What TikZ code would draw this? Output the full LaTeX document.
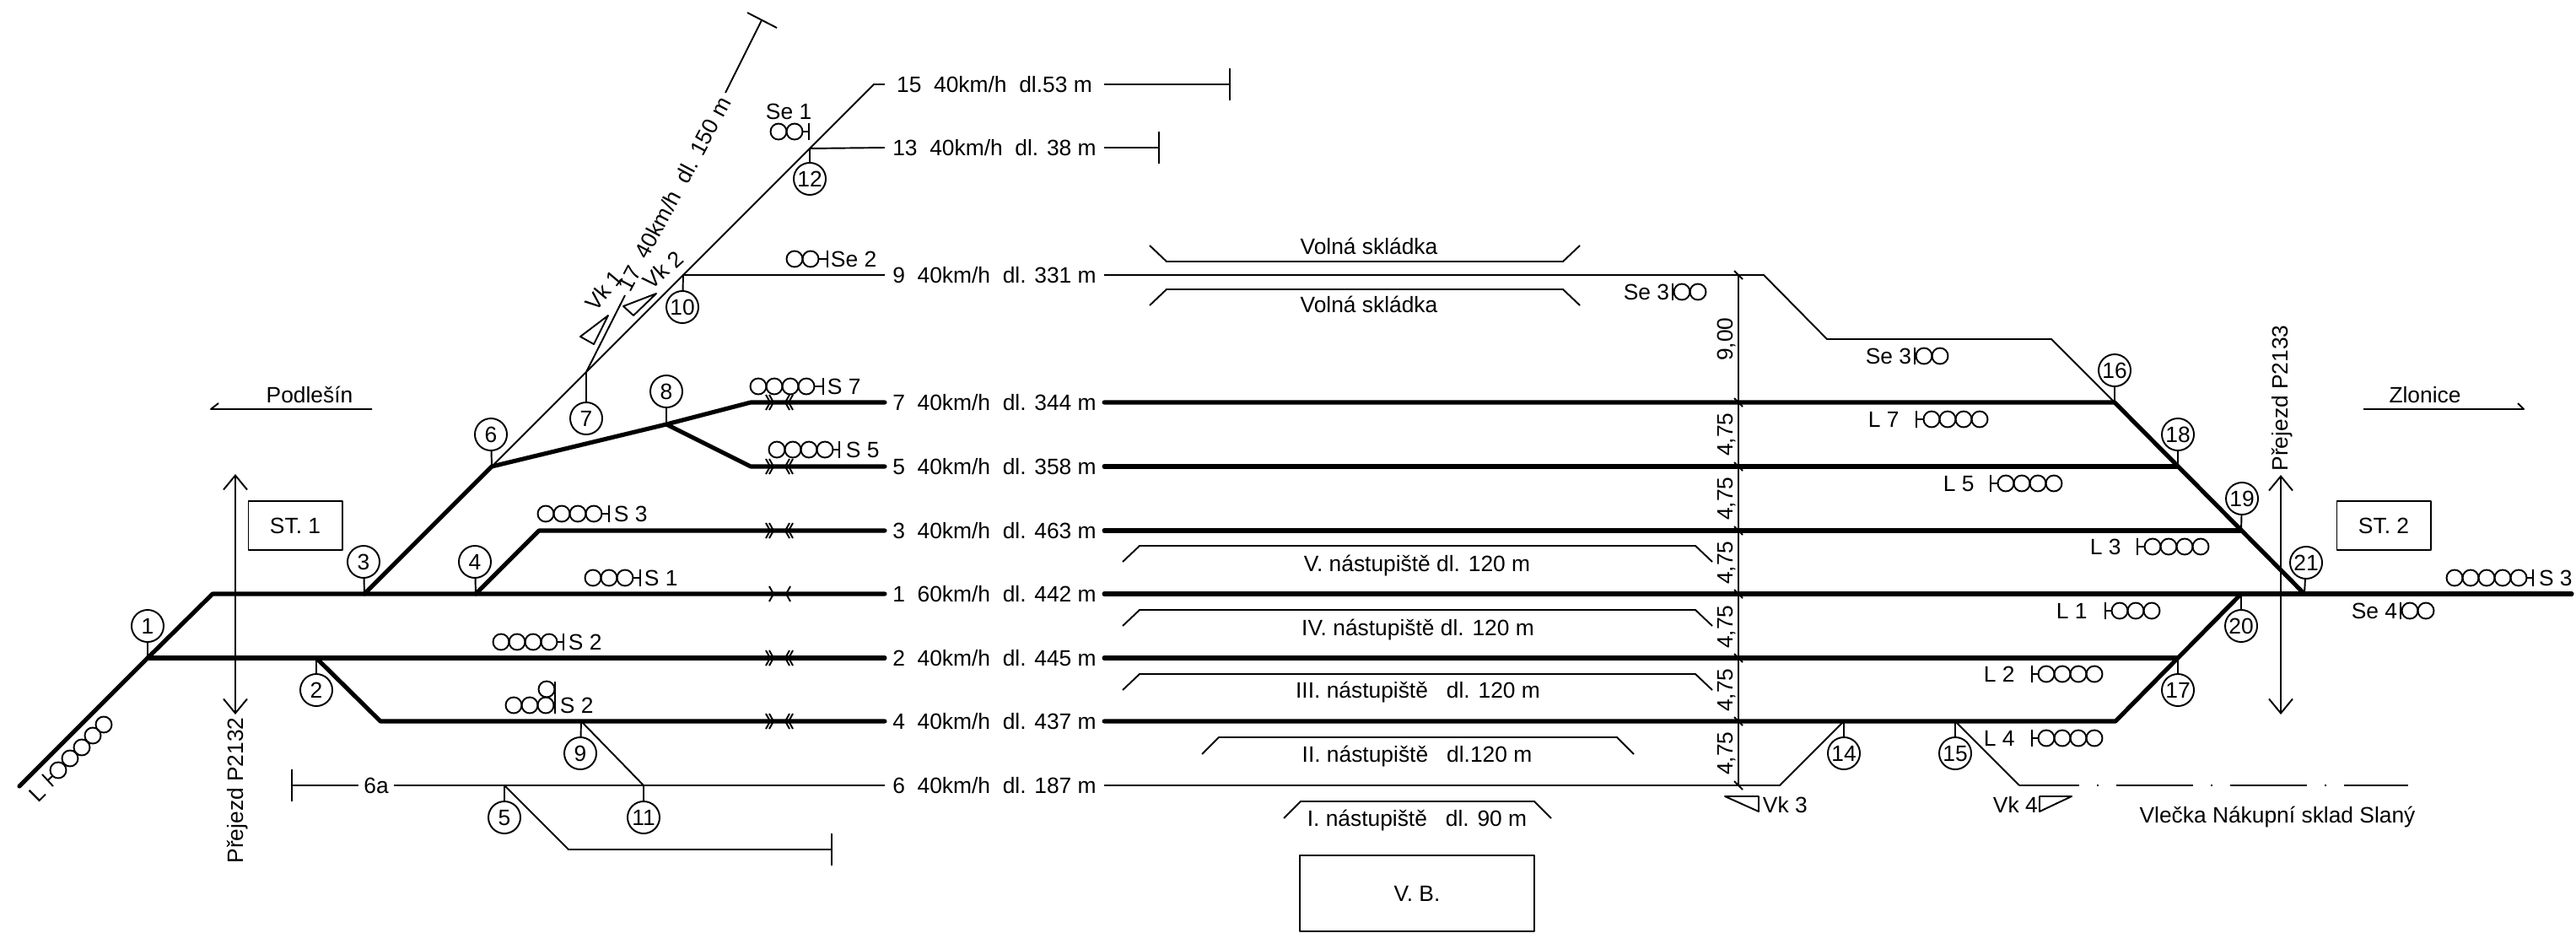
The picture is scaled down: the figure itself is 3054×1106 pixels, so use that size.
\documentclass[tikz,border=0pt]{standalone}
\usepackage{fontspec}
\setmainfont{Liberation Sans}
\usetikzlibrary{arrows.meta}
\tikzset{
    txt/.style={font=\fontsize{7.5}{9}\selectfont, inner sep=0pt, text height=5.4pt, text depth=0pt},
    rail/.style={line width=1.45pt, line cap=round},
    trk/.style={txt, minimum width=2.58cm},
    sw/.style={txt, draw, circle, fill=white, minimum size=0.38cm},
    box/.style={txt, draw, minimum width=1.11cm, minimum height=0.58cm},
    cross/.style={{Straight Barb[length=0.17cm,width=0.28cm]}-{Straight Barb[length=0.17cm,width=0.28cm]}}
}
% first lamp x, y, number of lamps, bar x (bar right of the lamps)
\newcommand{\lampsbar}[4]{
    \foreach \i in {1,...,#3} {\draw ({#1+19*(\i-1)},#2) circle (9.5);}
    \draw ({#1+19*(#3-1)+9.5},#2) -- (#4,#2);
    \draw (#4,#2-10) -- (#4,#2+10);
}
% first lamp x, y, number of lamps, bar x (bar left of the lamps)
\newcommand{\barlamps}[4]{
    \foreach \i in {1,...,#3} {\draw ({#1+19*(\i-1)},#2) circle (9.5);}
    \draw (#1-9.5,#2) -- (#4,#2);
    \draw (#4,#2-10) -- (#4,#2+10);
}
% left x, right x, y of the top, y of the ends
\newcommand{\platform}[4]{
    \draw (#1,#4) -- (#1+20,#3) -- (#2-20,#3) -- (#2,#4);
}
\begin{document}
\begin{tikzpicture}[x=0.01cm, y=-0.01cm, line width=0.55pt, line join=round]
    \useasboundingbox (0,0) rectangle (3054,1106);
    % points on the tracks
    \coordinate (j0) at (23,932);
    \coordinate (j1) at (175,780);
    \coordinate (k1) at (252,704);
    \coordinate (j2) at (375,780);
    \coordinate (k4) at (451,855);
    \coordinate (j3) at (432,704);
    \coordinate (j4) at (564,704);
    \coordinate (k3) at (639,629);
    \coordinate (j6) at (583,553);
    \coordinate (j8) at (790,503);
    \coordinate (k7) at (890,477);
    \coordinate (k5) at (890,553);
    \coordinate (j7) at (695,441);
    \coordinate (j10) at (810,326);
    \coordinate (j12) at (960,176);
    \coordinate (k15) at (1036,100);
    \coordinate (j9) at (689,855);
    \coordinate (j11) at (763,931);
    \coordinate (j5) at (598,931);
    \coordinate (k6) at (674,1007);
    \coordinate (e6) at (986,1007);
    \coordinate (e6a) at (346,931);
    \coordinate (e15) at (1458,100);
    \coordinate (e13) at (1374,175);
    \coordinate (j16) at (2507,477);
    \coordinate (j18) at (2582,553);
    \coordinate (j19) at (2657,629);
    \coordinate (j21) at (2732,704);
    \coordinate (j20) at (2657,704);
    \coordinate (j17) at (2582,780);
    \coordinate (k17) at (2508,855);
    \coordinate (e1) at (3049,704);
    \coordinate (k9a) at (2091,326);
    \coordinate (k9b) at (2166,402);
    \coordinate (k9c) at (2432,402);
    \coordinate (k14) at (2110,931);
    \coordinate (j14) at (2186,855);
    \coordinate (j15) at (2318,855);
    \coordinate (k18) at (2394,931);
    \coordinate (e18) at (2855,931);
    \coordinate (v1) at (741,350);
    \coordinate (v2) at (860,110);
    \coordinate (e17) at (903,24);
    % track labels
    \node[trk] (t15) at (1179,100) {15\ \ 40km/h\ \ dl.53 m};
    \node[trk] (t13) at (1179,175) {13\ \ 40km/h\ \ dl. 38 m};
    \node[trk] (t9) at (1179,326) {9\ \ 40km/h\ \ dl. 331 m};
    \node[trk] (t7) at (1179,477) {7\ \ 40km/h\ \ dl. 344 m};
    \node[trk] (t5) at (1179,553) {5\ \ 40km/h\ \ dl. 358 m};
    \node[trk] (t3) at (1179,629) {3\ \ 40km/h\ \ dl. 463 m};
    \node[trk] (t1) at (1179,704) {1\ \ 60km/h\ \ dl. 442 m};
    \node[trk] (t2) at (1179,780) {2\ \ 40km/h\ \ dl. 445 m};
    \node[trk] (t4) at (1179,855) {4\ \ 40km/h\ \ dl. 437 m};
    \node[trk] (t6) at (1179,931) {6\ \ 40km/h\ \ dl. 187 m};
    \node[txt, minimum width=0.41cm] (t6a) at (446,931) {6a};
    \node[txt, rotate=62] (t17) at (799,230) {17\ \ 40km/h\ \ dl. 150 m};
    % thick tracks
    \draw[rail] (j0) -- (j1) -- (k1) -- (t1.west);
    \draw[rail] (t1.east) -- (j21) -- (e1);
    \draw[rail] (j1) -- (t2.west);
    \draw[rail] (t2.east) -- (j17);
    \draw[rail] (j2) -- (k4) -- (t4.west);
    \draw[rail] (t4.east) -- (k17) -- (j20);
    \draw[rail] (j4) -- (k3) -- (t3.west);
    \draw[rail] (t3.east) -- (j19);
    \draw[rail] (j3) -- (j6) -- (j8) -- (k7) -- (t7.west);
    \draw[rail] (j8) -- (k5) -- (t5.west);
    \draw[rail] (t7.east) -- (j16) -- (j21);
    \draw[rail] (t5.east) -- (j18);
    % thin tracks
    \draw (j6) -- (j7) -- (j10) -- (j12) -- (k15) -- (t15.west);
    \draw (t15.east) -- (e15);
    \draw (e15) +(0,-19) -- +(0,19);
    \draw (j12) -- (t13.west);
    \draw (t13.east) -- (e13);
    \draw (e13) +(0,-19) -- +(0,19);
    \draw (j10) -- (t9.west);
    \draw (t9.east) -- (k9a) -- (k9b) -- (k9c) -- (j16);
    \draw (e6a) +(0,-19) -- +(0,19);
    \draw (e6a) -- (t6a.west);
    \draw (t6a.east) -- (t6.west);
    \draw (t6.east) -- (k14) -- (j14);
    \draw (j9) -- (j11);
    \draw (j5) -- (k6) -- (e6);
    \draw (e6) +(0,-19) -- +(0,19);
    \draw (j15) -- (k18);
    \draw[dash pattern=on 0.91cm off 0.21cm on 0.02cm off 0.21cm, dash phase=0.2cm] (k18) -- (e18);
    \draw (j7) -- (v1);
    \draw (v2) -- (e17);
    \draw (e17) +(-17,-9) -- +(18,9);
    % switches
    \node[sw] (n1) at (175,742) {1};
    \node[sw] (n2) at (375,818) {2};
    \node[sw] (n3) at (431,666) {3};
    \node[sw] (n4) at (563,666) {4};
    \node[sw] (n5) at (598,969) {5};
    \node[sw] (n6) at (582,515) {6};
    \node[sw] (n7) at (695,496) {7};
    \node[sw] (n8) at (790,464) {8};
    \node[sw] (n9) at (688,893) {9};
    \node[sw] (n10) at (809,364) {10};
    \node[sw] (n11) at (763,969) {11};
    \node[sw] (n12) at (960,212) {12};
    \node[sw] (n14) at (2186,893) {14};
    \node[sw] (n15) at (2318,893) {15};
    \node[sw] (n16) at (2507,439) {16};
    \node[sw] (n17) at (2582,818) {17};
    \node[sw] (n18) at (2582,515) {18};
    \node[sw] (n19) at (2658,591) {19};
    \node[sw] (n20) at (2657,742) {20};
    \node[sw] (n21) at (2734,667) {21};
    \draw (j1) -- (n1);
    \draw (j2) -- (n2);
    \draw (j3) -- (n3);
    \draw (j4) -- (n4);
    \draw (j5) -- (n5);
    \draw (j6) -- (n6);
    \draw (j7) -- (n7);
    \draw (j8) -- (n8);
    \draw (j9) -- (n9);
    \draw (j10) -- (n10);
    \draw (j11) -- (n11);
    \draw (j12) -- (n12);
    \draw (j14) -- (n14);
    \draw (j15) -- (n15);
    \draw (j16) -- (n16);
    \draw (j17) -- (n17);
    \draw (j18) -- (n18);
    \draw (j19) -- (n19);
    \draw (j20) -- (n20);
    \draw (j21) -- (n21);
    % insulated joints
    \foreach \y in {477,553,629,780,855} {
        \draw (908,\y-9) -- (913,\y) -- (908,\y+9);
        \draw (912,\y-9) -- (917,\y) -- (912,\y+9);
        \draw (940,\y-9) -- (935,\y) -- (940,\y+9);
        \draw (936,\y-9) -- (931,\y) -- (936,\y+9);
    }
    \draw (912,695) -- (917,704) -- (912,713);
    \draw (937,695) -- (932,704) -- (937,713);
    % signals
    \lampsbar{899}{458}{4}{976}
    \node[txt, anchor=west] (s7) at (980,458) {S 7};
    \lampsbar{921}{533}{4}{995}
    \node[txt, anchor=west] (s5) at (1002,533) {S 5};
    \lampsbar{647}{609}{4}{722}
    \node[txt, anchor=west] (s3) at (727,609) {S 3};
    \lampsbar{703}{685}{3}{759}
    \node[txt, anchor=west] (s1) at (763,685) {S 1};
    \lampsbar{594}{761}{4}{668}
    \node[txt, anchor=west] (s2) at (673,761) {S 2};
    \lampsbar{609}{836}{3}{658}
    \draw (648,817) circle (9.5);
    \draw (658,808) -- (658,846);
    \node[txt, anchor=west] (s2b) at (663,836) {S 2};
    \lampsbar{923}{156}{2}{959}
    \node[txt, anchor=west] (se1) at (907,132) {Se 1};
    \lampsbar{942}{307}{2}{981}
    \node[txt, anchor=west] (se2) at (984,307) {Se 2};
    \barlamps{1994}{346}{2}{1983}
    \node[txt, anchor=east] (se3) at (1980,346) {Se 3};
    \barlamps{2281}{422}{2}{2270}
    \node[txt, anchor=east] (se3b) at (2267,422) {Se 3};
    \barlamps{2290}{497}{4}{2272}
    \node[txt, anchor=west] (l7) at (2214,497) {L 7};
    \barlamps{2378}{573}{4}{2360}
    \node[txt, anchor=west] (l5) at (2303,573) {L 5};
    \barlamps{2552}{648}{4}{2534}
    \node[txt, anchor=west] (l3) at (2477,648) {L 3};
    \barlamps{2513}{724}{3}{2496}
    \node[txt, anchor=west] (l1) at (2437,724) {L 1};
    \barlamps{2426}{799}{4}{2409}
    \node[txt, anchor=west] (l2) at (2351,799) {L 2};
    \barlamps{2426}{875}{4}{2409}
    \node[txt, anchor=west] (l4) at (2351,875) {L 4};
    \barlamps{2857}{724}{2}{2846}
    \node[txt, anchor=east] (se4) at (2843,724) {Se 4};
    \lampsbar{2910}{685}{5}{3003}
    \node[txt, anchor=west] (s3b) at (3009,685) {S 3};
    % signal on the ramp
    \foreach \x/\y in {69/913,83/899,97/886,110/872,123/859} {
        \draw (\x,\y) circle (9.5);
    }
    \draw (56.5,925) -- (62,920);
    \draw (50,918) -- (63,932);
    \node[txt, rotate=45] (lr) at (44,941) {L};
    % shunting signs
    \draw (721,374) -- (688,399) -- (704,408) -- cycle;
    \node[txt, rotate=50] (vk1) at (716,344) {Vk 1};
    \draw (778,348) -- (739,363) -- (751,374) -- cycle;
    \node[txt, rotate=42] (vk2) at (786,320) {Vk 2};
    \draw (2045,944) -- (2085,944) -- (2085,962) -- cycle;
    \node[txt, anchor=west] (vk3) at (2089,954) {Vk 3};
    \draw (2418,944) -- (2456,944) -- (2418,962) -- cycle;
    \node[txt, anchor=west] (vk4) at (2362,954) {Vk 4};
    % distances between the tracks
    \coordinate (d0) at (2061,326);
    \coordinate (d6) at (2061,931);
    \draw (d0) -- (d6);
    \foreach \y in {326,477,553,629,704,780,855,931} {
        \draw (2056,\y-5) -- (2066,\y+5);
    }
    \node[txt, rotate=90] (h0) at (2045,402) {9,00};
    \node[txt, rotate=90] (h1) at (2045,515) {4,75};
    \node[txt, rotate=90] (h2) at (2045,591) {4,75};
    \node[txt, rotate=90] (h3) at (2045,667) {4,75};
    \node[txt, rotate=90] (h4) at (2045,743) {4,75};
    \node[txt, rotate=90] (h5) at (2045,818) {4,75};
    \node[txt, rotate=90] (h6) at (2045,893) {4,75};
    % platforms
    \platform{1363}{1873}{310}{291}
    \node[txt] (p1) at (1623,292) {Volná skládka};
    \platform{1363}{1873}{343}{362}
    \node[txt] (p2) at (1623,361) {Volná skládka};
    \platform{1331}{2030}{647}{666}
    \node[txt] (p3) at (1680,668) {V. nástupiště dl. 120 m};
    \platform{1331}{2030}{723}{742}
    \node[txt] (p4) at (1681,744) {IV. nástupiště dl. 120 m};
    \platform{1331}{2030}{799}{818}
    \node[txt] (p5) at (1681,818) {III. nástupiště\ \ \ dl. 120 m};
    \platform{1425}{1937}{874}{894}
    \node[txt] (p6) at (1680,894) {II. nástupiště\ \ \ dl.120 m};
    \platform{1522}{1839}{950}{970}
    \node[txt] (p7) at (1680,970) {I. nástupiště\ \ \ dl. 90 m};
    \node[box, minimum width=2.77cm, minimum height=0.9cm] (vb) at (1680,1059) {V. B.};
    % stations, crossings, directions
    \node[box] (st1) at (350,623) {ST. 1};
    \node[box] (st2) at (2826,623) {ST. 2};
    \coordinate (c1a) at (279,562);
    \coordinate (c1b) at (279,847);
    \draw[cross] (c1a) -- (c1b);
    \node[txt, rotate=90] (c1) at (279,937) {Přejezd P2132};
    \coordinate (c2a) at (2704,563);
    \coordinate (c2b) at (2704,847);
    \draw[cross] (c2a) -- (c2b);
    \node[txt, rotate=90] (c2) at (2703,472) {Přejezd P2133};
    \node[txt] (pod) at (367,468) {Podlešín};
    \draw (259,478) -- (250,485) -- (441,485);
    \node[txt] (zlo) at (2875,468) {Zlonice};
    \draw (2802,485) -- (2992,485) -- (2985,478);
    \node[txt] (vle) at (2700,966) {Vlečka Nákupní sklad Slaný};
\end{tikzpicture}
\end{document}
